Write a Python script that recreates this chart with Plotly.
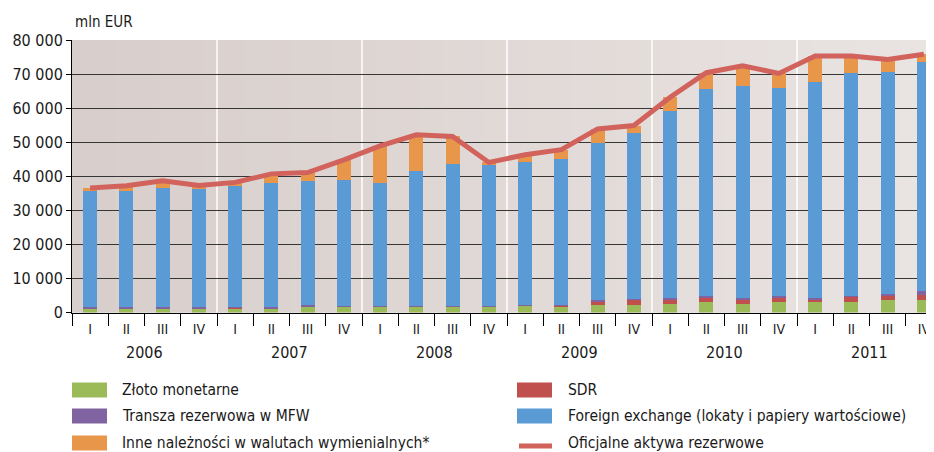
import plotly.graph_objects as go

years = ["2006", "2007", "2008", "2009", "2010", "2011"]
quarters = ["I", "II", "III", "IV"]
labels = [q for y in years for q in quarters]

gold = [1200, 1200, 1200, 1200, 1200, 1100, 1650, 1650, 1650, 1650, 1650, 1650,
        2150, 1650, 2150, 2250, 2640, 3130, 2640, 3130, 3130, 3130, 3710, 3710]
sdr = [50, 50, 50, 50, 200, 50, 50, 50, 50, 50, 50, 50,
       50, 400, 1170, 1460, 1270, 1370, 1270, 1370, 780, 1460, 1370, 1370]
tranche = [450, 450, 450, 450, 250, 500, 400, 200, 100, 150, 350, 350,
           100, 100, 390, 390, 390, 390, 490, 390, 490, 290, 490, 1270]
fx = [33850, 33850, 34840, 34540, 35350, 36450, 36500, 37070, 36200, 39750, 41610, 41120,
      41750, 42980, 46010, 48550, 54900, 60750, 62200, 61110, 63200, 65320, 65130, 67300]
other = [990, 1650, 2160, 1060, 1200, 2600, 2500, 5830, 10900, 10550, 8040, 880,
         2250, 2670, 4180, 2250, 4000, 4760, 5800, 4200, 7700, 5100, 3600, 2150]
total = [36540, 37200, 38700, 37300, 38200, 40700, 41100, 44800, 48900, 52150, 51700, 44050,
         46300, 47800, 53900, 54900, 63200, 70400, 72400, 70200, 75300, 75300, 74300, 75800]

yticks = [0, 10000, 20000, 30000, 40000, 50000, 60000, 70000, 80000]
ytext = ["0", "10 000", "20 000", "30 000", "40 000", "50 000", "60 000", "70 000", "80 000"]

FONT = "DejaVu Sans Condensed, Liberation Sans Narrow, sans-serif"
TXT = "#1a1a1a"
W, H = 934, 452
OFF = 8  # page body margin


def px(xs_):
    return (xs_ - OFF) / W


def py(ys_):
    return 1 - (ys_ - OFF) / H


xs = list(range(len(labels)))

series = [
    ("Złoto monetarne", gold, "#9bbb59"),
    ("SDR", sdr, "#c0504d"),
    ("Transza rezerwowa w MFW", tranche, "#8064a2"),
    ("Foreign exchange (lokaty i papiery wartościowe)", fx, "#5b9bd5"),
    ("Inne należności w walutach wymienialnych*", other, "#e8964a"),
]
line_name = "Oficjalne aktywa rezerwowe"
line_col = "#d2625c"

fig = go.Figure()
for name, vals, col in series:
    fig.add_trace(go.Bar(x=xs, y=vals, name=name, marker=dict(color=col, line=dict(width=0)),
                         width=0.39, showlegend=False))
fig.add_trace(go.Scatter(x=xs, y=total, name=line_name, mode="lines",
                         line=dict(color=line_col, width=5), showlegend=False))

# background gradient strips
n = 40
c0 = (216, 206, 203)
c1 = (233, 228, 226)
for i in range(n):
    t = i / (n - 1)
    c = tuple(round(c0[k] + (c1[k] - c0[k]) * t) for k in range(3))
    fig.add_shape(type="rect", xref="x domain", yref="y domain", x0=i / n, x1=(i + 1) / n + 0.002,
                  y0=0, y1=1, fillcolor="rgb(%d,%d,%d)" % c, line=dict(width=0), layer="below")

# year separators
for k in range(1, len(years)):
    xb = k * len(quarters) - 0.5
    fig.add_shape(type="line", xref="x", yref="y domain", x0=xb, x1=xb, y0=0, y1=1,
                  line=dict(color="white", width=1.5), layer="below")

for k, yr in enumerate(years):
    fig.add_annotation(x=k * len(quarters) + 1.5, y=py(352), xref="x", yref="paper", text=yr,
                       showarrow=False, yanchor="middle", font=dict(size=16, color=TXT, family=FONT))

fig.add_annotation(x=px(73), y=py(22), xref="paper", yref="paper", text="mln EUR", showarrow=False,
                   xanchor="left", yanchor="middle", font=dict(size=15, color=TXT, family=FONT))

# custom legend
legend_items = [(s[0], s[2], "bar") for s in series] + [(line_name, line_col, "line")]
col_x = [(72, 120), (517, 566)]
row_y = [390, 416, 443]
for idx, (name, col, kind) in enumerate(legend_items):
    c = idx % 2
    r = idx // 2
    sx, tx = col_x[c]
    cy = row_y[r]
    if kind == "bar":
        fig.add_shape(type="rect", xref="paper", yref="paper", x0=px(sx), x1=px(sx + 35),
                      y0=py(cy + 7.5), y1=py(cy - 7.5), fillcolor=col, line=dict(width=0))
    else:
        fig.add_shape(type="line", xref="paper", yref="paper", x0=px(sx + 2), x1=px(sx + 35),
                      y0=py(cy + 3), y1=py(cy + 3), line=dict(color=col, width=5))
    fig.add_annotation(x=px(tx), y=py(cy), xref="paper", yref="paper", text=name, showarrow=False,
                       xanchor="left", yanchor="middle", font=dict(size=15.5, color=TXT, family=FONT))

fig.update_layout(
    width=W, height=H,
    margin=dict(l=0, r=0, t=0, b=0),
    barmode="stack",
    paper_bgcolor="white",
    plot_bgcolor="#e0d9d6",
    font=dict(family=FONT, color=TXT),
    showlegend=False,
    xaxis=dict(domain=[px(72), 1], range=[-0.5, 23.5], tickmode="array", tickvals=xs, ticktext=labels,
               ticks="", showgrid=False, zeroline=False, showline=True, linecolor="black",
               linewidth=1, tickfont=dict(size=14, family=FONT, color=TXT), ticklabelstandoff=4,
               automargin=False,
               minor=dict(tickmode="linear", tick0=-0.5, dtick=1, ticks="outside", ticklen=12,
                          tickcolor="black", tickwidth=1, showgrid=False)),
    yaxis=dict(domain=[py(312.5), py(40)], range=[0, 80000], tickmode="array", tickvals=yticks,
               ticktext=ytext, showgrid=True, gridcolor="#363636", gridwidth=1.2, zeroline=False,
               showline=True, linecolor="black", linewidth=1, ticks="outside", ticklen=5,
               tickcolor="black", automargin=False, tickfont=dict(size=16, family=FONT, color=TXT)),
)

fig.write_html("out.html")
